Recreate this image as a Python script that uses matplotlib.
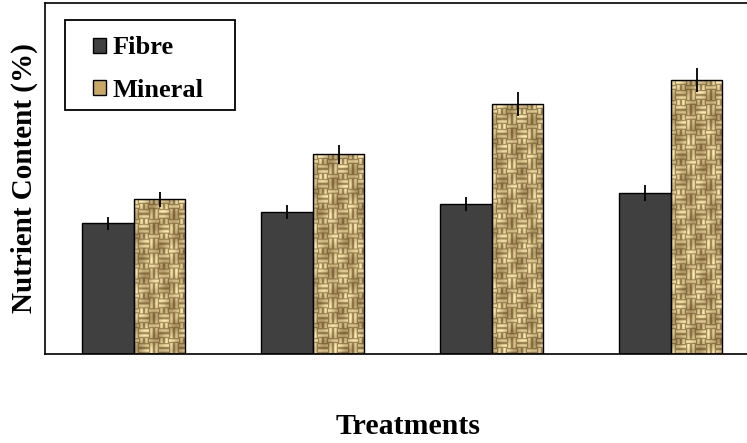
import numpy as np
import matplotlib.pyplot as plt
from matplotlib.patches import Patch, Rectangle

treatments = ["T1", "T2", "T3", "T4"]
fibre = [13.1, 14.2, 15.0, 16.1]
mineral = [15.5, 20.0, 25.0, 27.4]
fibre_err = [0.65, 0.7, 0.7, 0.8]
mineral_err = [0.75, 0.95, 1.2, 1.2]


def burlap(h, w, cell=5):
    # woven texture: alternating horizontal / vertical thread blocks
    yy, xx = np.mgrid[0:h, 0:w]
    ci, cj = yy // cell, xx // cell
    horiz = ((ci + cj) % 2 == 0) ^ ((ci // 3 + cj // 2) % 2 == 0)
    fy = (yy % cell + 0.5) / cell
    fx = (xx % cell + 0.5) / cell
    shade = np.where(horiz, np.sin(np.pi * fy), np.sin(np.pi * fx)) ** 0.7
    blot = 0.5 + 0.5 * np.sin(xx * 0.23 + yy * 0.11) * np.cos(yy * 0.17 - xx * 0.07)
    shade = shade * (0.5 + 0.5 * blot)
    light = np.array([1.0, 0.93, 0.70])
    dark = np.array([0.36, 0.25, 0.09])
    s = np.clip(shade, 0, 1)[..., None]
    return dark + (light - dark) * s


fig = plt.figure(figsize=(7.47, 4.43), dpi=100)
ax = fig.add_axes([0.0602, 0.201, 0.9398, 0.792])

x = np.arange(len(treatments))
w = 0.288
ax.bar(x - w / 2, fibre, w, color="#404040", edgecolor="black", linewidth=1, zorder=2)
ax.errorbar(x - w / 2, fibre, yerr=fibre_err, fmt="none", ecolor="black", elinewidth=1.3, capsize=0, zorder=4)

mbars = ax.bar(x + w / 2, mineral, w, color="none", edgecolor="black", linewidth=1, zorder=3)
for b, v in zip(mbars, mineral):
    tex = burlap(int(v * 10) + 1, 52)
    im = ax.imshow(tex, extent=(b.get_x(), b.get_x() + w, 0, v), aspect="auto",
                   interpolation="bilinear", zorder=2, origin="upper")
    im.set_clip_path(b)
ax.errorbar(x + w / 2, mineral, yerr=mineral_err, fmt="none", ecolor="black", elinewidth=1.3, capsize=0, zorder=4)

ax.set_xlim(-0.497, 3.425)
ax.set_ylim(0, 35.1)
ax.set_xticks([])
ax.set_yticks([])
ax.spines["right"].set_visible(False)
for s in ax.spines.values():
    s.set_linewidth(1.2)

font = {"family": "Liberation Serif", "weight": "bold"}
ax.set_ylabel("Nutrient Content (%)", fontdict=dict(font, size=21), labelpad=5)
fig.text(0.546, 0.037, "Treatments", ha="center", va="center", fontdict=dict(font, size=21.5))

# legend frame drawn separately (wide right padding like the original)
ax.add_patch(Rectangle((0.0286, 0.695), 0.2425, 0.2565, transform=ax.transAxes,
                       facecolor="white", edgecolor="black", linewidth=1.3, zorder=5))
handles = [Patch(facecolor="#404040", edgecolor="black", label="Fibre"),
           Patch(facecolor="#c9a865", edgecolor="black", label="Mineral")]
leg = ax.legend(handles=handles, loc="upper left", bbox_to_anchor=(0.068, 0.905),
                prop={"family": "Liberation Serif", "weight": "bold", "size": 19},
                handlelength=0.5, handleheight=0.5, handletextpad=0.25,
                labelspacing=0.74, borderpad=0, frameon=False, borderaxespad=0)
leg.set_zorder(6)

fig.savefig("out.png", dpi=100)
